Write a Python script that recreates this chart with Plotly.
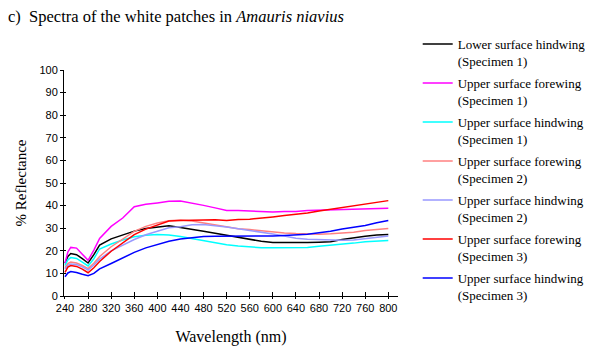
import plotly.graph_objects as go

wavelength = [240, 245, 250, 260, 270, 280, 290, 300, 320, 340, 360, 380, 400, 420, 440, 460,
              480, 500, 520, 540, 560, 580, 600, 620, 640, 660, 680, 700, 720, 740, 760, 780, 800]

lower_hind_s1 = [14.5, 17.5, 18.8, 18.3, 16.5, 14.6, 18.3, 22.5, 25.3, 27.0, 28.7, 29.9, 30.6, 31.1, 30.3, 29.6,
                 28.7, 27.8, 26.9, 26.0, 25.0, 24.2, 23.7, 23.6, 23.7, 23.7, 23.8, 24.0, 25.0, 25.8, 26.4, 27.0, 27.2]
upper_fore_s1 = [14.5, 19.5, 21.5, 21.2, 18.5, 15.8, 20.3, 25.5, 30.8, 34.5, 39.5, 40.6, 41.2, 41.9, 42.0, 41.2,
                 40.1, 39.0, 37.8, 37.8, 37.6, 37.4, 37.2, 37.4, 37.4, 37.8, 37.9, 38.3, 38.4, 38.4, 38.5, 38.7, 38.8]
upper_hind_s1 = [13.5, 16.0, 17.0, 16.6, 15.0, 13.3, 16.5, 20.8, 23.0, 24.8, 26.2, 26.9, 27.2, 27.0, 26.3, 25.4,
                 24.5, 23.5, 22.7, 22.1, 21.7, 21.4, 21.4, 21.4, 21.4, 21.5, 22.0, 22.4, 23.0, 23.4, 24.0, 24.4, 24.6]
upper_fore_s2 = [12.5, 14.3, 15.0, 14.6, 13.5, 12.1, 14.5, 17.5, 21.8, 25.2, 28.6, 30.8, 32.3, 33.3, 33.6, 33.2,
                 32.3, 31.3, 30.6, 29.8, 29.4, 28.8, 28.3, 27.9, 27.6, 27.4, 27.3, 27.5, 27.7, 28.2, 29.0, 29.4, 29.9]
upper_hind_s2 = [12.0, 13.6, 14.2, 13.9, 12.9, 11.5, 13.7, 16.3, 20.0, 22.5, 25.0, 27.1, 28.7, 30.2, 30.6, 31.5,
                 31.6, 31.2, 30.5, 29.8, 29.1, 28.3, 27.4, 26.5, 25.6, 25.1, 24.9, 24.7, 24.7, 24.8, 25.4, 25.9, 26.5]
upper_fore_s3 = [10.5, 12.8, 13.5, 13.1, 11.9, 10.3, 12.5, 15.3, 19.8, 23.5, 27.2, 29.6, 31.5, 33.2, 33.4, 33.5,
                 33.8, 33.7, 33.4, 33.9, 34.0, 34.4, 35.0, 35.6, 36.1, 36.7, 37.6, 38.4, 39.3, 40.0, 40.9, 41.5, 42.2]
upper_hind_s3 = [8.5, 10.2, 10.8, 10.4, 9.6, 9.0, 10.0, 12.0, 14.4, 17.0, 19.3, 21.3, 22.9, 24.2, 25.2, 25.9,
                 26.3, 26.4, 26.4, 26.5, 26.5, 26.6, 26.6, 26.8, 27.0, 27.3, 28.0, 28.6, 29.6, 30.3, 31.2, 32.4, 33.4]

series_names = [
    "Lower surface hindwing<br>(Specimen 1)",
    "Upper surface forewing<br>(Specimen 1)",
    "Upper surface hindwing<br>(Specimen 1)",
    "Upper surface forewing<br>(Specimen 2)",
    "Upper surface hindwing<br>(Specimen 2)",
    "Upper surface forewing<br>(Specimen 3)",
    "Upper surface hindwing<br>(Specimen 3)",
]
series_values = [lower_hind_s1, upper_fore_s1, upper_hind_s1, upper_fore_s2,
                 upper_hind_s2, upper_fore_s3, upper_hind_s3]
series_colors = ["#000000", "#FF00FF", "#00FFFF", "#FF8080", "#9999FF", "#FF0000", "#0000FF"]

x_ticks = list(range(240, 801, 40))
y_ticks = list(range(0, 101, 10))

fig = go.Figure()
for i, (name, vals, col) in enumerate(zip(series_names, series_values, series_colors)):
    fig.add_trace(go.Scatter(x=wavelength, y=vals, mode="lines", name=name,
                             line=dict(color=col, width=1.5), legendgroup=f"g{i}"))

# empty trace for overlay axes (inner half of crossing tick marks)
fig.add_trace(go.Scatter(x=[], y=[], xaxis="x2", yaxis="y2", showlegend=False, hoverinfo="skip"))

serif = "Liberation Serif, Times New Roman, serif"
sans = "Liberation Sans, Arial, sans-serif"

xr = [238.3, 816.8]
yr = [0, 100]

# page body adds an 8px offset, so the figure is 8px smaller than the window
fig.update_layout(
    width=585, height=350,
    margin=dict(l=56, r=195, t=62, b=62, autoexpand=False),
    paper_bgcolor="white", plot_bgcolor="white",
    title=dict(text="c)&nbsp; Spectra of the white patches in <i>Amauris niavius</i>",
               x=0, xanchor="left", y=1 - 8 / 350, yanchor="middle",
               font=dict(family=serif, size=16.5, color="black")),
    xaxis=dict(range=xr, tickvals=x_ticks, ticks="outside", ticklen=2, tickcolor="black",
               showline=True, linecolor="black", linewidth=1, showgrid=False, zeroline=False,
               tickfont=dict(family=sans, size=11, color="black"),
               title=dict(text="Wavelength (nm)", font=dict(family=serif, size=16, color="black"), standoff=17)),
    yaxis=dict(range=yr, tickvals=y_ticks, ticks="outside", ticklen=3, tickcolor="black",
               showline=True, linecolor="black", linewidth=1, showgrid=False, zeroline=False,
               tickfont=dict(family=sans, size=11, color="black"),
               title=dict(text="% Reflectance", font=dict(family=serif, size=15, color="black"), standoff=9)),
    xaxis2=dict(range=xr, overlaying="x", tickvals=x_ticks, ticks="inside", ticklen=4, tickcolor="black",
                showticklabels=False, showline=False, showgrid=False, zeroline=False),
    yaxis2=dict(range=yr, overlaying="y", tickvals=y_ticks, ticks="inside", ticklen=2, tickcolor="black",
                showticklabels=False, showline=False, showgrid=False, zeroline=False),
    legend=dict(x=1.059, xanchor="left", y=1.181, yanchor="top", valign="top",
                font=dict(family=serif, size=13, color="black"), tracegroupgap=2.2,
                bgcolor="rgba(0,0,0,0)", maxheight=340),
    showlegend=True,
)

fig.write_html("out.html")
